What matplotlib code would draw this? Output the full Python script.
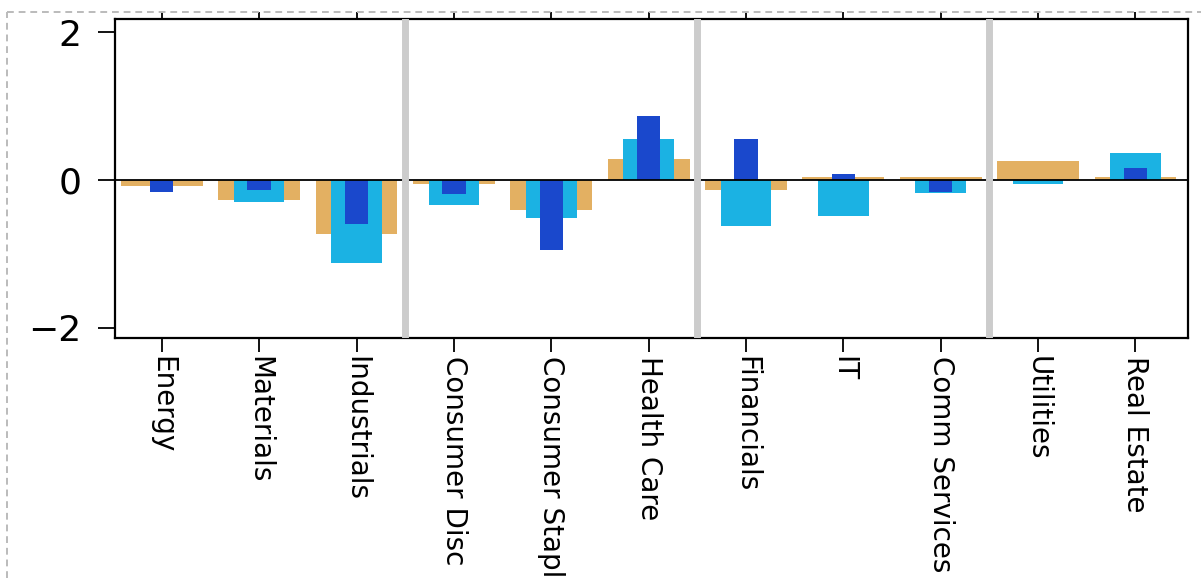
import matplotlib
matplotlib.use("Agg")
import matplotlib.pyplot as plt
from matplotlib.lines import Line2D
import numpy as np

# sector labels, left to right
sectors = ["Energy", "Materials", "Industrials", "Consumer Disc", "Consumer Stapl",
           "Health Care", "Financials", "IT", "Comm Services", "Utilities", "Real Estate"]

# three overlaid series
wide_vals = [-0.08, -0.27, -0.73, -0.05, -0.41, 0.29, -0.13, 0.04, 0.04, 0.26, 0.04]
mid_vals = [0.0, -0.30, -1.13, -0.34, -0.51, 0.55, -0.62, -0.49, -0.17, -0.05, 0.37]
narrow_vals = [-0.16, -0.13, -0.59, -0.19, -0.95, 0.87, 0.55, 0.08, -0.16, 0.0, 0.16]

# group boundaries (between sectors)
group_breaks = [2.5, 5.5, 8.5]
y_ticks = [-2, 0, 2]

TAN = "#E3B062"
LIGHT_BLUE = "#1BB2E3"
DARK_BLUE = "#1A48CC"


def main():
    fig = plt.figure(figsize=(12.01, 5.78), dpi=100)
    ax = fig.add_axes([0.0958, 0.4152, 0.8934, 0.5518])

    x = np.arange(len(sectors))
    ax.bar(x, wide_vals, width=0.84, color=TAN, zorder=2)
    ax.bar(x, mid_vals, width=0.52, color=LIGHT_BLUE, zorder=3)
    ax.bar(x, narrow_vals, width=0.24, color=DARK_BLUE, zorder=4)

    ax.axhline(0, color="black", linewidth=1.3, zorder=5)
    for b in group_breaks:
        ax.axvline(b, color="#cccccc", linewidth=5, zorder=6)

    ax.set_xlim(-0.48, 10.54)
    ax.set_ylim(-2.14, 2.18)
    ax.set_yticks(y_ticks)
    ax.set_yticklabels(["\u22122", "0", "2"])
    ax.set_xticks(x)
    ax.set_xticklabels(sectors, rotation=270, ha="center", va="top")

    ax.tick_params(axis="y", length=12, width=1.3, pad=12, labelsize=26)
    ax.tick_params(axis="x", length=10, width=1.3, pad=3, labelsize=20)
    ax.tick_params(axis="x", which="major", top=True)
    for t in ax.xaxis.get_major_ticks():
        t.tick2line.set_markersize(5)

    for s in ax.spines.values():
        s.set_linewidth(1.6)

    # dashed frame of the screenshot
    fig.add_artist(Line2D([7 / 1201, 1], [1 - 12 / 578, 1 - 12 / 578],
                          transform=fig.transFigure, color="#bbbbbb",
                          linestyle=(0, (3.5, 2.5)), linewidth=1.4, zorder=10))
    fig.add_artist(Line2D([7 / 1201, 7 / 1201], [0, 1 - 12 / 578],
                          transform=fig.transFigure, color="#bbbbbb",
                          linestyle=(0, (3.5, 2.5)), linewidth=1.4, zorder=10))

    fig.savefig("out.png", dpi=100)
    plt.close(fig)


if __name__ == "__main__":
    main()
